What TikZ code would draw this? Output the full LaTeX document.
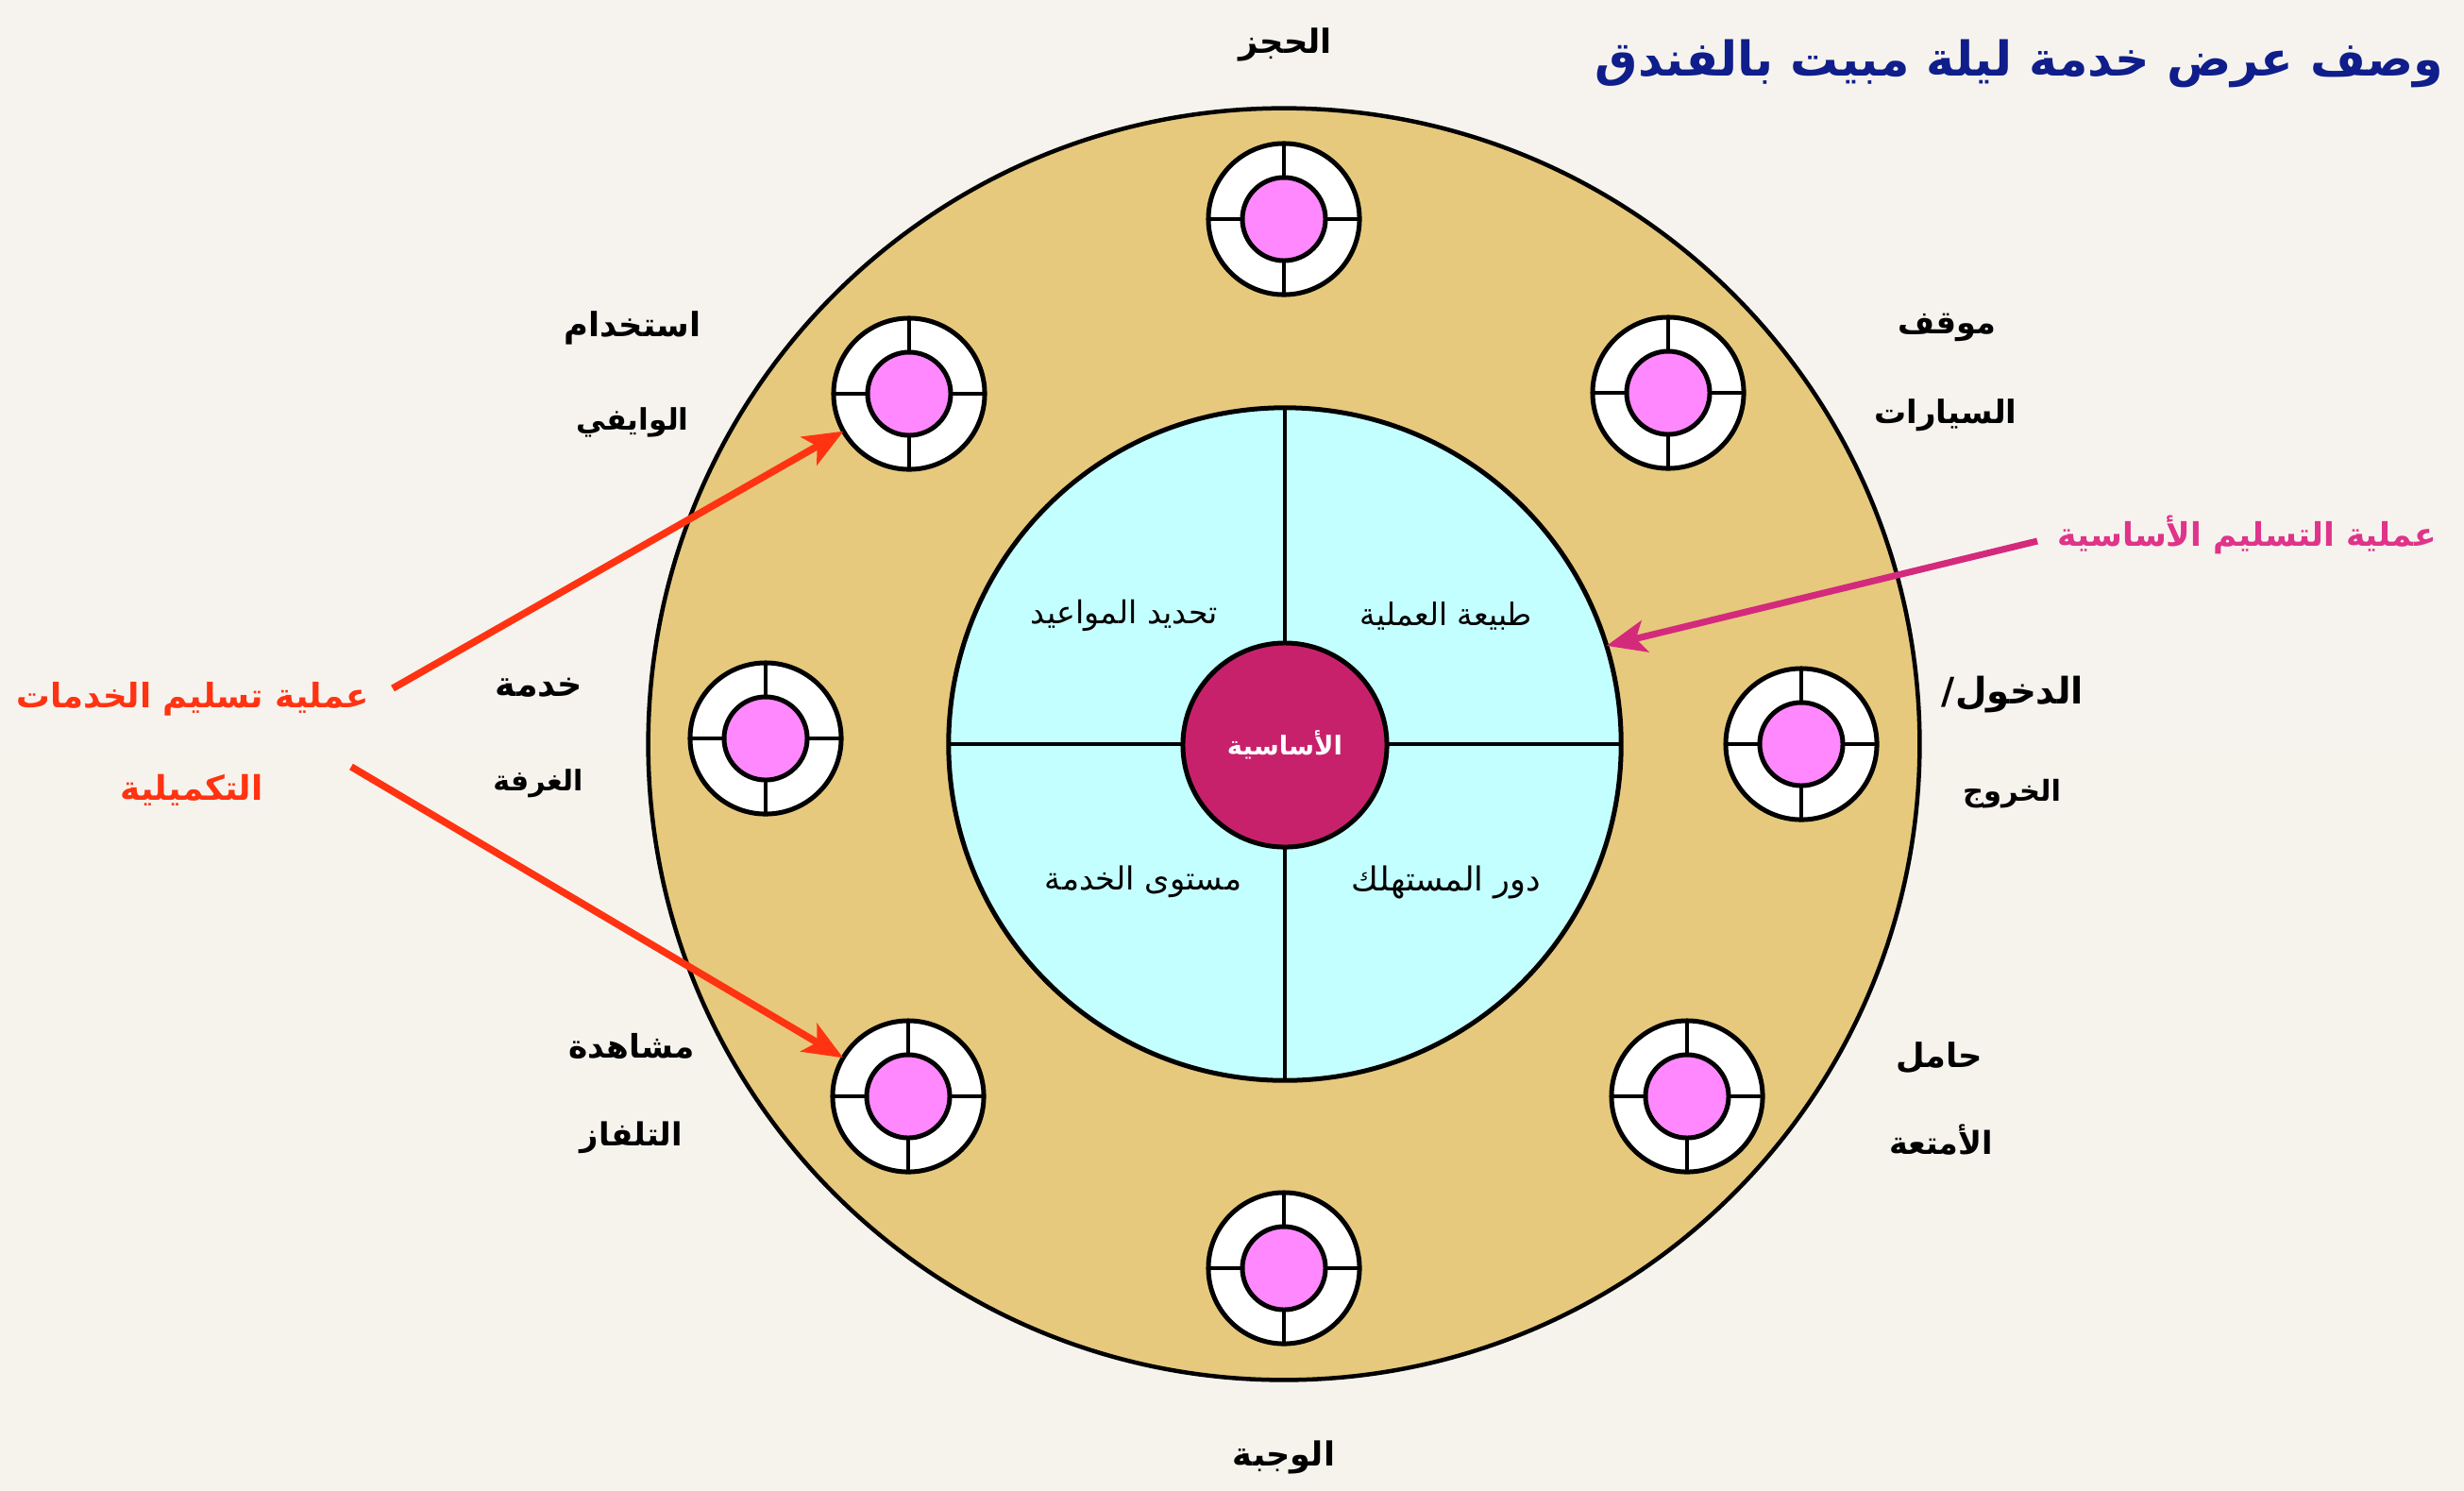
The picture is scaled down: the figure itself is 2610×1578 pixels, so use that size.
\documentclass[tikz,border=0pt]{standalone}
\usepackage{fontspec}
\usepackage{graphicx}
\usetikzlibrary{arrows.meta}
\newfontfamily\ar[Script=Arabic]{DejaVu Sans}
\TeXXeTstate=1
\definecolor{bgtop}{HTML}{F6F3EE}
\definecolor{bgmid}{HTML}{E8E4DD}
\definecolor{bgbot}{HTML}{F6F3ED}
\definecolor{gold}{HTML}{E6C97D}
\definecolor{cyanc}{HTML}{C4FFFF}
\definecolor{pinkc}{HTML}{FF88FF}
\definecolor{hubc}{HTML}{C8216C}
\definecolor{redc}{HTML}{FF3311}
\definecolor{magc}{HTML}{D42A7C}
\definecolor{magt}{HTML}{E0338A}
\definecolor{titlec}{HTML}{0F1E8A}
\newcommand{\AR}[2]{\resizebox{#1cm}{!}{#2}}
\newcommand{\tgtat}[3]{%
  \node[tgt] (#1) at (#2,#3) {};
  \draw[tline] (#1.north) -- (#1.south) (#1.west) -- (#1.east);
  \node[tgtin] (#1i) at (#1) {};}
\begin{document}
\begin{tikzpicture}[x=0.01cm,y=-0.01cm,
  tgt/.style={circle, draw=black, fill=white, line width=0.05cm, minimum size=1.6cm, inner sep=0, outer sep=0},
  tgtin/.style={circle, draw=black, fill=pinkc, line width=0.05cm, minimum size=0.88cm, inner sep=0, outer sep=0},
  tline/.style={line width=0.045cm},
  ringc/.style={circle, draw=black, fill=gold, line width=0.045cm, minimum size=13.46cm, inner sep=0, outer sep=0},
  corec/.style={circle, draw=black, fill=cyanc, line width=0.05cm, minimum size=7.12cm, inner sep=0, outer sep=0},
  qline/.style={line width=0.045cm},
  hub/.style={circle, draw=black, fill=hubc, line width=0.05cm, minimum size=2.16cm, inner sep=0, outer sep=0},
  lbl/.style={inner sep=0, text=black, font=\ar\bfseries},
  qlbl/.style={inner sep=0, text=black, font=\ar},
  redarrow/.style={draw=redc, line width=0.075cm, -{Stealth[length=0.42cm,width=0.34cm,inset=0.1cm]}},
  magarrow/.style={draw=magc, line width=0.07cm, -{Stealth[length=0.42cm,width=0.34cm,inset=0.1cm]}}]
\useasboundingbox (0,0) rectangle (2610,1578);
\shade[top color=bgtop, middle color=bgmid, bottom color=bgbot] (0,0) rectangle (2610,1578);

% main rings
\node[ringc] (ring) at (1360,788) {};
\node[corec] (core) at (1361,788) {};
\draw[qline] (core.north) -- (core.south) (core.west) -- (core.east);
\node[hub] (hub) at (1361,789) {};
\node[inner sep=0, text=white, font=\ar\bfseries] (hubt) at (1361,789) {\AR{1.22}{\beginR الأساسية\endR}};

% quadrant labels
\node[qlbl] (q1) at (1532,652) {\AR{1.82}{\beginR طبيعة العملية\endR}};
\node[qlbl] (q2) at (1191,652) {\AR{1.98}{\beginR تحديد المواعيد\endR}};
\node[qlbl] (q3) at (1211,934) {\AR{2.08}{\beginR مستوى الخدمة\endR}};
\node[qlbl] (q4) at (1532,934) {\AR{2.00}{\beginR دور المستهلك\endR}};

% targets
\tgtat{T}{1360}{232}
\tgtat{TR}{1767}{416}
\tgtat{R}{1908}{788}
\tgtat{BR}{1787}{1161}
\tgtat{B}{1360}{1343}
\tgtat{BL}{962}{1161}
\tgtat{L}{811}{782}
\tgtat{TL}{963}{417}

% outer labels
\node[lbl] (lT) at (1362,47) {\AR{0.98}{\beginR الحجز\endR}};
\node[lbl] (lTR1) at (2062,347) {\AR{1.04}{\beginR موقف\endR}};
\node[lbl] (lTR2) at (2061,440) {\AR{1.51}{\beginR السيارات\endR}};
\node[lbl] (lR1) at (2132,735) {\AR{1.50}{\beginR الدخول/\endR}};
\node[lbl] (lR2) at (2131,841) {\AR{1.04}{\beginR الخروج\endR}};
\node[lbl] (lBR1) at (2054,1120) {\AR{0.92}{\beginR حامل\endR}};
\node[lbl] (lBR2) at (2056,1207) {\AR{1.10}{\beginR الأمتعة\endR}};
\node[lbl] (lB) at (1360,1543) {\AR{1.08}{\beginR الوجبة\endR}};
\node[lbl] (lBL1) at (669,1108) {\AR{1.33}{\beginR مشاهدة\endR}};
\node[lbl] (lBL2) at (669,1205) {\AR{1.08}{\beginR التلفاز\endR}};
\node[lbl] (lL1) at (571,728) {\AR{0.92}{\beginR خدمة\endR}};
\node[lbl] (lL2) at (570,830) {\AR{0.95}{\beginR الغرفة\endR}};
\node[lbl] (lTL1) at (670,347) {\AR{1.45}{\beginR استخدام\endR}};
\node[lbl] (lTL2) at (670,447) {\AR{1.19}{\beginR الوايفي\endR}};

% title
\node[inner sep=0, text=titlec, font=\ar\bfseries] (title) at (2139,67) {\AR{8.98}{\beginR وصف عرض خدمة ليلة مبيت بالفندق\endR}};

% side callouts
\node[inner sep=0, text=magt, font=\ar\bfseries] (corelab) at (2380,566) {\AR{4.01}{\beginR عملية التسليم الأساسية\endR}};
\node[inner sep=0, text=redc, font=\ar\bfseries] (sup1) at (204,740) {\AR{3.73}{\beginR عملية تسليم الخدمات\endR}};
\node[inner sep=0, text=redc, font=\ar\bfseries] (sup2) at (203,837) {\AR{1.51}{\beginR التكميلية\endR}};

% arrows
\coordinate (ra) at (416,729);
\coordinate (rb) at (372,812);
\coordinate (ma) at (2158,573);
\draw[redarrow] (ra) -- (TL);
\draw[redarrow] (rb) -- (BL);
\draw[magarrow] (ma) -- (core.17.5);
\end{tikzpicture}
\end{document}
